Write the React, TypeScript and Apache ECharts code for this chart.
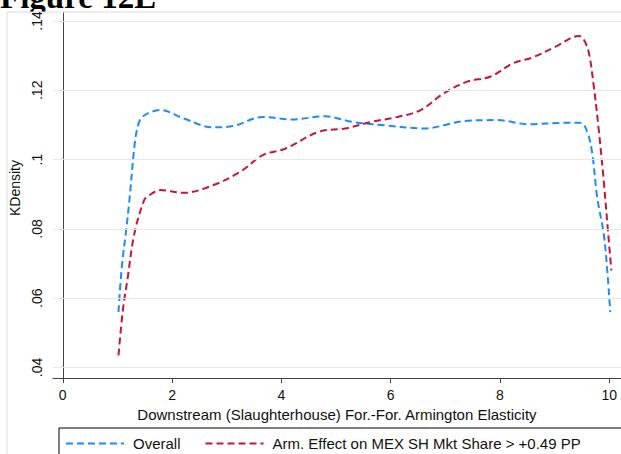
import React, { useEffect, useRef } from "react";
import * as echarts from "echarts";

// ---- data ----
const overallX = [1.02, 1.08, 1.16, 1.22, 1.31, 1.37, 1.46, 1.79, 2.21, 2.75, 3.12, 3.66, 4.2, 4.8, 5.29, 5.89, 6.61, 7.34, 7.94, 8.54, 9.14, 9.48, 9.6, 9.69, 9.78, 9.9, 9.96, 10.02];
const overallY = [0.056, 0.069, 0.0796, 0.0883, 0.1037, 0.1094, 0.1124, 0.1143, 0.1119, 0.1093, 0.1097, 0.1123, 0.1116, 0.1125, 0.1109, 0.1099, 0.109, 0.1111, 0.1114, 0.1102, 0.1106, 0.1106, 0.108, 0.1018, 0.0892, 0.0786, 0.069, 0.056];

const armX = [1.02, 1.1, 1.19, 1.31, 1.49, 1.58, 1.79, 2.21, 2.75, 3.24, 3.66, 4.08, 4.68, 5.17, 5.65, 6.12, 6.55, 6.97, 7.4, 7.82, 8.24, 8.6, 9.02, 9.45, 9.54, 9.63, 9.72, 9.81, 9.9, 9.98, 10.04];
const armY = [0.0435, 0.0565, 0.0661, 0.0786, 0.0883, 0.0897, 0.0912, 0.0904, 0.0926, 0.0964, 0.1013, 0.1032, 0.108, 0.109, 0.1109, 0.1123, 0.1143, 0.1191, 0.1225, 0.1239, 0.1278, 0.1295, 0.1326, 0.1357, 0.1345, 0.1307, 0.121, 0.1085, 0.094, 0.079, 0.068];

const seriesNames = ["Overall", "Arm. Effect on MEX SH Mkt Share > +0.49 PP"];
const xTicks = [0, 2, 4, 6, 8, 10];
const yTicks = [0.04, 0.06, 0.08, 0.1, 0.12, 0.14];
const xTitle = "Downstream (Slaughterhouse) For.-For. Armington Elasticity";
const yTitle = "KDensity";
const figureTitle = "Figure 12E";

// ---- layout (pixels) ----
const GRID_LEFT = 51;
const GRID_TOP = 13;
const GRID_RIGHT_PX = 627;
const GRID_BOTTOM_PX = 378;
const X0_PX = 61;
const X10_PX = 615;
const YLO_PX = 367.5; // .04
const YHI_PX = 21; // .14

const pxPerX = (X10_PX - X0_PX) / 10;
const pxPerY = (YLO_PX - YHI_PX) / 0.1;
const xMin = 0 - (X0_PX - GRID_LEFT) / pxPerX;
const xMax = 10 + (GRID_RIGHT_PX - X10_PX) / pxPerX;
const yMin = 0.04 - (GRID_BOTTOM_PX - YLO_PX) / pxPerY;
const yMax = 0.14 + (YHI_PX - GRID_TOP) / pxPerY;

const FONT = '"Liberation Sans", Arial, sans-serif';
const BLUE = "#1a8cff";
const RED = "#c8143c";
const AXIS = "#444";

const fmtY = (v: number) => String(Math.round(v * 100) / 100).replace(/^0\./, ".");

export default function App() {
  const ref = useRef<HTMLDivElement>(null);
  useEffect(() => {
    if (!ref.current) return;
    const chart = echarts.init(ref.current, null, { renderer: "svg" });
    const overall = overallX.map((x, i) => [x, overallY[i]]);
    const arm = armX.map((x, i) => [x, armY[i]]);
    chart.setOption({
      animation: false,
      backgroundColor: "#ffffff",
      textStyle: { fontFamily: FONT, color: "#111" },
      graphic: [
        {
          type: "text",
          x: 0,
          y: 13,
          z: -20,
          style: {
            text: figureTitle,
            font: 'bold 33px "Liberation Serif", "Times New Roman", serif',
            fill: "#000",
            verticalAlign: "bottom",
          },
        },
        {
          type: "rect",
          z: -10,
          shape: { x: 7, y: 12, width: 700, height: 500 },
          style: { fill: "#ffffff", stroke: "#dcdcdc", lineWidth: 1 },
        },
      ],
      grid: {
        left: GRID_LEFT,
        top: GRID_TOP,
        width: GRID_RIGHT_PX - GRID_LEFT,
        height: GRID_BOTTOM_PX - GRID_TOP,
        containLabel: false,
      },
      xAxis: {
        type: "value",
        min: xMin,
        max: xMax,
        axisLine: { show: true, lineStyle: { color: AXIS, width: 1 } },
        axisTick: { show: true, length: 5, customValues: xTicks, lineStyle: { color: AXIS } },
        axisLabel: {
          customValues: xTicks,
          margin: 10,
          fontSize: 14,
          color: "#111",
          fontFamily: FONT,
          formatter: (v: number) => String(Math.round(v)),
        },
        splitLine: { show: false },
        name: xTitle,
        nameLocation: "middle",
        nameGap: 27,
        nameTextStyle: { fontSize: 15, color: "#111", fontFamily: FONT },
      },
      yAxis: {
        type: "value",
        min: yMin,
        max: yMax,
        axisLine: { show: true, lineStyle: { color: AXIS, width: 1 } },
        axisTick: { show: true, length: 4, customValues: yTicks, lineStyle: { color: AXIS } },
        axisLabel: {
          customValues: yTicks,
          rotate: 90,
          margin: 9,
          fontSize: 14,
          color: "#111",
          fontFamily: FONT,
          formatter: fmtY,
        },
        splitLine: { show: false },
        name: yTitle,
        nameLocation: "middle",
        nameGap: 27,
        nameTextStyle: { fontSize: 14, color: "#111", fontFamily: FONT, padding: [0, 0, 0, 15] },
      },
      legend: {
        data: seriesNames,
        left: 59,
        top: 428,
        width: 900,
        orient: "horizontal",
        padding: [8, 80, 10, 6],
        itemGap: 24,
        itemWidth: 58,
        itemHeight: 14,
        borderColor: "#000",
        borderWidth: 1,
        borderRadius: 0,
        backgroundColor: "#fff",
        itemStyle: { color: "transparent", borderColor: "transparent", borderWidth: 0, opacity: 0 },
        textStyle: { fontSize: 15, color: "#111", fontFamily: FONT, padding: [0, 0, 0, 4] },
      },
      series: [
        {
          name: "grid",
          type: "line",
          data: [],
          z: 1,
          silent: true,
          markLine: {
            silent: true,
            symbol: ["none", "none"],
            label: { show: false },
            lineStyle: { color: "#e8e8e8", width: 1, type: "solid" },
            data: yTicks.map((v) => ({ yAxis: v })),
          },
        },
        {
          name: seriesNames[0],
          type: "line",
          data: overall,
          z: 3,
          symbol: "none",
          smooth: 0.35,
          lineStyle: { color: BLUE, width: 2, type: [7, 4] },
          itemStyle: { color: BLUE },
        },
        {
          name: seriesNames[1],
          type: "line",
          data: arm,
          z: 3,
          symbol: "none",
          smooth: 0.35,
          lineStyle: { color: RED, width: 2, type: [7, 4] },
          itemStyle: { color: RED },
        },
      ],
    });
    return () => chart.dispose();
  }, []);
  return (
    <div
      ref={ref}
      style={{ position: "fixed", left: 0, top: 0, width: 621, height: 454 }}
    />
  );
}
